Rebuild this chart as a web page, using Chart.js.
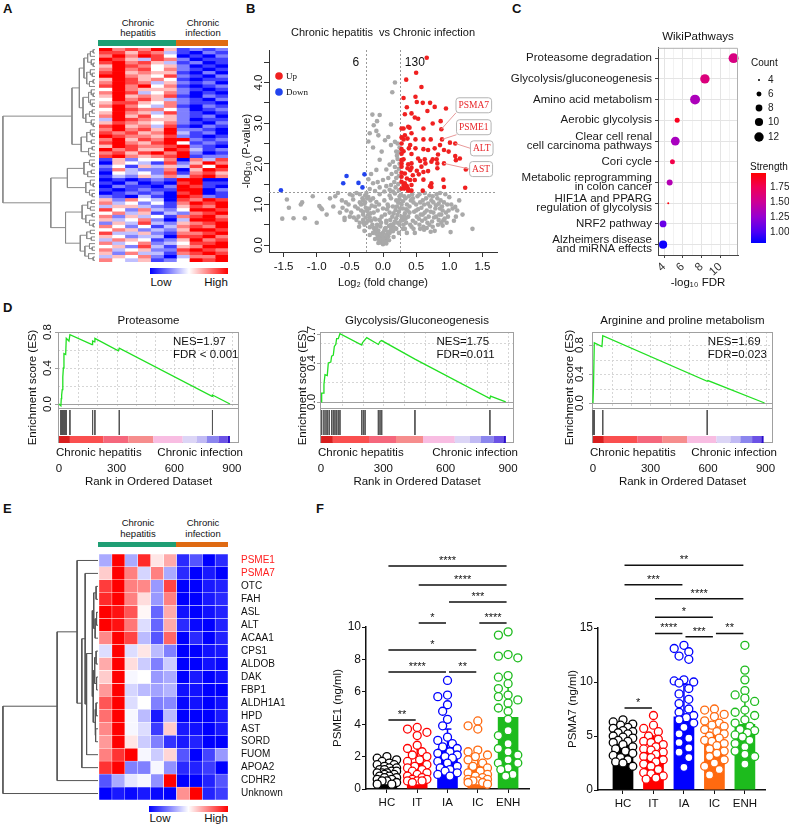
<!DOCTYPE html>
<html>
<head>
<meta charset="utf-8">
<script src="https://cdn.jsdelivr.net/npm/chart.js@4.4.1/dist/chart.umd.min.js"></script>
<style>
  html, body { margin: 0; padding: 0; background: #fff; }
  body { width: 789px; height: 827px; position: relative; overflow: hidden; font-family: "Liberation Sans", Arial, sans-serif; color: #111; }
  canvas { position: absolute; }
  .t { position: absolute; white-space: nowrap; line-height: 1; }
  .box { position: absolute; }
</style>
</head>
<body>
<script>
// ---------------- data ----------------
// A: heatmap, digits 0..8 (4 = neutral), 6 chronic hepatitis + 4 chronic infection columns
const heatRowsA = [
  "8676851212","7757631021","6868740102","8753762011","7867531201","5876452010",
  "6867462101","7856551020","8865472102","5875641011","6876352120","7868461012",
  "4865552101","6873462010","5856571021","4867532102","5775462110","6864361021",
  "4876642012","5865372101","6857452120","3876552011","5765462102","7856371021",
  "6867582210","7675683120","8766572101","6857688212","7865784121","5876678210",
  "8675587312","6757868201","7865678122",
  "1524460637","0543172586","2415353748","1632260587","0434271675","1325363786",
  "0101218800","1020107811","0211028710","1012118802","0121207801","2103108721",
  "5264307687","6342416878","3553215768","7426324887","4635132678","6253416786",
  "5346203887","2537325678","6424136768","4652325887","7335216678","5423307786",
  "3654125867","6346234778","4527315688","6345227876","5263316787","3546203668",
  "6435124878"
];
// dendrogram of A rows: [height, left, right], leaves = row index
const treeA = [1.0,
  [0.25,
    [0.17,
      [0.12, [0.08, [0.05, [0.02, 0, 1], 2], [0.04, 3, [0.02, 4, 5]]], [0.09, [0.05, 6, [0.03, 7, 8]], [0.06, [0.02, 9, 10], 11]]],
      [0.13, [0.07, [0.04, 12, [0.02, 13, 14]], [0.05, 15, [0.03, 16, 17]]], [0.1, [0.06, [0.03, 18, 19], 20], [0.04, 21, [0.02, 22, 23]]]]],
    [0.15, [0.09, [0.05, 24, [0.03, 25, 26]], [0.04, 27, 28]], [0.07, [0.03, 29, 30], [0.05, 31, 32]]]],
  [0.48,
    [0.3, [0.12, [0.06, 33, [0.03, 34, 35]], [0.08, [0.04, 36, 37], 38]], [0.1, [0.05, 39, [0.02, 40, 41]], [0.06, 42, [0.03, 43, 44]]]],
    [0.32,
      [0.14, [0.08, [0.04, 45, 46], [0.05, 47, 48]], [0.1, [0.03, 49, 50], [0.06, 51, [0.02, 52, 53]]]],
      [0.16, [0.09, [0.05, 54, 55], [0.04, 56, 57]], [0.11, [0.06, 58, [0.03, 59, 60]], [0.07, 61, [0.02, 62, 63]]]]]]];

// B: volcano plot, [log2 fold change, -log10 p]
const volcanoUp = [[0.66,4.61],[0.50,4.24],[0.35,4.07],[0.58,3.89],[0.31,3.62],[0.49,3.65],[0.51,3.52],[0.60,3.50],[0.71,3.50],[0.78,3.40],[0.95,3.36],[0.36,3.39],[0.43,3.24],[0.67,3.30],[0.33,3.22],[0.48,3.14],[0.53,3.11],[0.75,2.99],[0.87,3.05],[0.61,2.87],[0.38,2.91],[0.40,2.89],[0.28,2.87],[0.31,2.87],[0.88,2.85],[0.43,2.75],[0.33,2.70],[0.28,2.65],[0.31,2.60],[0.37,2.62],[0.49,2.60],[0.61,2.60],[0.72,2.60],[0.89,2.60],[1.01,2.52],[1.09,2.50],[0.86,2.46],[0.28,2.50],[0.41,2.46],[0.39,2.38],[0.28,2.36],[0.31,2.31],[0.49,2.38],[0.61,2.36],[0.68,2.34],[0.78,2.38],[0.92,2.34],[0.99,2.30],[0.28,2.25],[0.43,2.24],[0.83,2.23],[1.09,2.19],[1.16,2.13],[1.10,2.09],[0.31,2.11],[0.53,2.13],[0.63,2.11],[0.75,2.11],[0.81,2.11],[0.28,2.09],[0.56,2.07],[0.73,2.05],[0.64,2.01],[0.92,2.01],[0.28,2.01],[0.38,1.99],[0.43,2.01],[0.82,2.01],[0.28,1.93],[0.43,1.90],[0.58,1.93],[0.37,1.89],[0.41,1.84],[0.51,1.83],[0.82,1.89],[1.25,1.86],[0.68,1.82],[0.61,1.80],[0.28,1.78],[0.33,1.76],[0.45,1.72],[0.54,1.74],[0.28,1.68],[0.36,1.64],[0.41,1.60],[0.48,1.60],[0.61,1.61],[0.91,1.61],[0.28,1.56],[0.33,1.52],[0.73,1.52],[0.31,1.48],[0.36,1.45],[0.43,1.48],[0.71,1.45],[0.73,1.43],[0.92,1.43],[0.32,1.39],[0.38,1.38],[1.24,1.41],[0.60,1.34],[0.43,1.34],[0.38,1.34],[0.28,1.39]];
const volcanoDown = [[-1.54,1.35],[-0.55,1.70],[-0.60,1.52],[-0.37,1.53],[-0.31,1.42],[-0.28,1.74]];
const volcanoGray = [
  [-1.52,0.65],[-1.35,0.66],[-1.18,0.66],[-1.42,0.92],[-1.45,1.12],[-1.24,1.0],[-1.22,1.05],[-1.06,1.2],[-0.94,0.92],[-0.96,0.96],[-0.92,0.88],[-0.72,1.2],[-0.68,1.28],[-0.61,0.92],[-0.58,0.67],[-0.58,0.62],[-0.52,1.0],[-0.5,1.25],[-0.48,0.8],[-0.45,1.12],[-0.42,0.95],[-0.4,1.28],[-0.37,0.7],[-0.35,1.05],[-0.33,0.85],[-0.31,1.15],[-0.29,0.55],[-0.3,0.75],[-0.36,0.45],[-0.8,1.15],[-0.62,1.1],[-0.55,0.85],[-0.46,1.22],[-0.44,0.68],[-0.4,0.62],[-0.38,0.9],[-0.35,0.55],[-0.33,1.0],
  [0.18,4.0],[0.14,3.76],[-0.05,3.2],[-0.09,3.05],[-0.16,3.21],[-0.14,2.95],[-0.1,2.81],[-0.2,2.75],[-0.22,2.55],[-0.07,2.7],[0.08,2.66],[0.03,2.58],[0.22,2.5],[0.12,2.46],[0.25,2.4],[0.2,2.3],[-0.02,2.3],[-0.15,2.4],[0.12,2.97],[0.18,2.54],[0.22,2.12],[0.15,2.05],[-0.05,2.1],[0.1,1.98],[0.18,1.92],[0.05,1.86],[0.24,1.88],[-0.1,1.85],[0.2,1.8],[0.13,1.75],[-0.18,1.75],[-0.22,1.62],[0.24,1.7],[0.2,1.65],[0.08,1.65],[0.0,1.6],[-0.08,1.55],[0.17,1.55],[0.23,1.5],[0.12,1.48],[-0.15,1.52],[0.05,1.45],[-0.05,1.42],[0.19,1.42],[0.24,1.35],[0.1,1.36],[-0.2,1.38],[-0.12,1.33],[0.02,1.32],[0.15,1.32],[0.21,2.2],[0.25,2.0],[0.23,2.28],
  [0.0,0.02],[0.02,0.05],[-0.02,0.06],[0.04,0.1],[-0.04,0.1],[0.01,0.12],[0.06,0.15],[-0.06,0.14],[0.03,0.18],[-0.03,0.2],[0.08,0.22],[-0.08,0.2],[0.05,0.25],[-0.05,0.27],[0.1,0.3],[-0.1,0.28],[0.0,0.3],[0.07,0.33],[-0.07,0.35],[0.12,0.38],[-0.12,0.36],[0.03,0.4],[0.14,0.45],[-0.14,0.42],[0.09,0.47],[-0.09,0.5],[0.16,0.52],[-0.16,0.5],[0.05,0.55],[0.18,0.58],[-0.18,0.6],[0.11,0.62],[-0.11,0.63],[0.2,0.66],[-0.2,0.68],[0.14,0.7],[-0.02,0.7],[0.22,0.74],[-0.22,0.75],[0.16,0.78],[-0.14,0.8],[0.24,0.82],[-0.24,0.84],[0.19,0.86],[0.06,0.88],[0.26,0.9],[-0.26,0.92],[0.21,0.95],[-0.17,0.97],[0.28,1.0],[-0.28,1.02],[0.23,1.04],[-0.1,1.06],[0.3,1.08],[-0.3,1.1],[0.25,1.12],[0.12,1.15],[-0.22,1.18],[0.32,1.2],[0.27,1.24],[-0.05,1.25],[0.18,1.27],[-0.25,1.28],
  [0.01,0.08],[0.0,0.16],[-0.01,0.24],[0.02,0.36],[0.04,0.42],[-0.04,0.46],[0.15,0.34],[-0.15,0.3],[0.2,0.4],[-0.2,0.44],[0.25,0.5],[-0.25,0.55],[0.3,0.62],[0.28,0.7],[0.33,0.78],[0.35,0.88],[-0.3,0.62],[-0.3,0.82],[-0.28,0.5],[-0.26,0.68],[-0.24,1.15],[-0.21,0.9],[-0.19,1.1],[-0.27,1.22],[0.08,0.95],[-0.06,1.0],[0.1,1.22],[0.02,1.1],
  [0.35,0.55],[0.38,0.7],[0.4,0.95],[0.42,1.1],[0.45,0.6],[0.47,0.82],[0.5,1.0],[0.52,1.2],[0.55,0.5],[0.57,0.75],[0.58,0.92],[0.6,1.1],[0.62,0.38],[0.64,0.65],[0.66,0.85],[0.68,1.02],[0.7,1.22],[0.72,0.33],[0.74,0.58],[0.76,0.8],[0.78,0.35],[0.8,0.98],[0.82,1.15],[0.84,0.62],[0.86,0.9],[0.88,0.75],[0.9,0.48],[0.92,1.05],[0.95,0.8],[0.97,1.0],[1.02,0.32],[1.05,0.9],[1.1,0.7],[1.35,0.4],[1.09,0.94],[0.91,0.61],
  [0.33,0.4],[0.36,0.3],[0.31,0.5],[0.34,0.65],[0.37,0.85],[0.39,1.2],[0.43,0.45],[0.44,1.25],[0.48,0.3],[0.49,0.55],[0.51,0.7],[0.53,0.88],[0.56,1.05],[0.59,0.6],[0.61,0.45],[0.63,0.8],[0.65,1.15],[0.67,0.55],[0.69,0.7],[0.71,0.95],[0.73,1.1],[0.75,0.45],[0.77,0.68],[0.79,0.9],[0.81,1.25],[0.83,0.5],[0.85,0.75],[0.87,1.1],[0.89,0.95],[0.93,0.65],[0.96,0.55],[0.99,0.85],[1.0,1.18],[0.94,1.25],
  [0.05,0.6],[-0.05,0.62],[0.1,0.8],[-0.08,0.85],[0.15,0.95],[-0.12,0.95],[0.2,1.1],[-0.15,1.15],[0.25,1.2],[0.07,1.0],[0.0,0.9],[0.03,0.75],[-0.03,0.55],[0.12,0.5],[-0.1,0.42],[0.18,0.42],[0.22,0.55],[0.27,0.6],[0.32,0.7],[0.3,0.9],[0.36,1.0],[0.34,1.15],[0.4,0.8],[0.41,0.5],[0.46,0.4],[0.46,1.05],[0.5,0.85],[0.54,0.65],[0.56,0.4],[0.6,0.75],[0.62,1.0],[0.66,0.42],[0.7,0.5],[0.72,0.82],[0.76,1.05],[0.8,0.7],[0.84,1.02],[0.88,0.55],[0.9,0.85],[0.98,0.7],[1.03,1.0],[1.07,0.6],[1.12,0.85],[1.15,1.1],[1.2,0.75],[0.45,1.15],[0.55,1.25],[0.63,1.28],[0.75,1.2],[0.86,1.28],[-0.13,0.65],[-0.19,0.78],[-0.23,0.6],[-0.27,1.05],[-0.35,1.25],[-0.5,0.7],[-0.56,1.05],[-0.65,0.8],[-0.75,0.95],[-0.85,0.75],[-1.0,0.55],[-0.28,0.35],[-0.2,0.25],[0.24,0.3],[0.3,0.4],[0.16,0.2],[-0.12,0.15],[0.09,0.12],[-0.07,0.05],[0.05,0.04]
];
const fcCut = [-0.26, 0.26];
const pCut = 1.3;
const geneTags = [ // gene, point, tag centre, anchor
  ['PSMA7', [0.88, 2.85], [1.37, 3.44], 'bl'],
  ['PSME1', [0.89, 2.60], [1.37, 2.90], 'bl'],
  ['ALT',   [1.09, 2.50], [1.49, 2.38], 'l'],
  ['AST',   [0.92, 2.01], [1.48, 1.87], 'l']
];

// C: WikiPathways enrichment
const wpTerms = ['Proteasome degradation', 'Glycolysis/gluconeogenesis', 'Amino acid metabolism', 'Aerobic glycolysis',
  ['Clear cell renal', 'cell carcinoma pathways'], 'Cori cycle', ['Metabolic reprogramming', 'in colon cancer'],
  ['HIF1A and PPARG', 'regulation of glycolysis'], 'NRF2 pathway', ['Alzheimers disease', 'and miRNA effects']];
const wpFdr = [11.4, 8.35, 7.3, 5.4, 5.2, 4.9, 4.6, 4.45, 3.9, 3.9];
const wpCount = [13, 12, 13, 6, 11, 6, 7, 4, 8, 10];
const wpStrength = [1.58, 1.6, 1.35, 1.9, 1.33, 1.78, 1.38, 1.95, 1.1, 0.85];
const countBreaks = [4, 6, 8, 10, 12];
const strengthBreaks = [1.0, 1.25, 1.5, 1.75];

// D: GSEA running enrichment scores [rank, ES] and hit ranks
const proteasomeCurve = [[0,0],[10,-0.02],[12,0.06],[14,0.1],[17,0.16],[19,0.21],[21,0.3],[23,0.4],[26,0.56],[35,0.55],[38,0.73],[52,0.7],[57,0.77],[172,0.66],[175,0.7],[185,0.69],[187,0.73],[309,0.59],[314,0.62],[797,0.085],[799,0.1],[890,0]];
const proteasomeHits = [10,12,14,17,19,21,23,26,30,35,38,57,175,187,314,799];
const glycolysisCurve = [[0,0],[3,0.09],[11,0.09],[14,0.18],[19,0.28],[30,0.27],[35,0.4],[47,0.41],[51,0.47],[59,0.48],[64,0.57],[71,0.59],[75,0.65],[83,0.65],[91,0.7],[196,0.585],[200,0.61],[208,0.63],[220,0.66],[276,0.59],[284,0.62],[292,0.63],[452,0.44],[813,0.035],[816,0.06],[889,0]];
const glycolysisHits = [3,14,24,32,40,51,59,67,75,83,91,196,204,212,276,284,292,452,813];
const arginineCurve = [[0,0],[3,0.25],[7,0.83],[47,0.78],[51,0.93],[596,0.3],[600,0.31],[895,0]];
const arginineHits = [1,3,5,7,51,596];
const rankTicks = [0, 300, 600, 900];
const rankBreaks = [0, 57, 231, 361, 491, 644, 717, 769, 830, 878, 890];
const rankColors = ['#d81e1e','#fa4f4f','#f5677c','#f68d8d','#f8bde2','#dcd5f6','#c1baf4','#8b85ee','#6b52e6','#2a0ccc'];

// E: marker heatmap
const eGenes = ['PSME1','PSMA7','OTC','FAH','ASL','ALT','ACAA1','CPS1','ALDOB','DAK','FBP1','ALDH1A1','HPD','AST','SORD','FUOM','APOA2','CDHR2','Unknown'];
const eValues = [
  [-1, 3, -1, 2.5, 0.3, 1, -2.5, -2, -3, -2.5],
  [0.6, 3, 1.5, -0.5, 1.5, -1, -2.5, -3, -2.7, -3],
  [2.3, 3, 1.5, 1.4, -1.2, 2.2, -3, -3, -2.7, -2.6],
  [2.5, 3, 1.5, 0.4, -1.2, 1.5, -3, -3, -2.7, -2.5],
  [3, 2.8, 2, 0.1, -1.8, 1, -2.8, -3, -2.8, -2.6],
  [3, 2.8, 1.6, -0.4, -1.8, 1, -2.5, -2.9, -3, -2.6],
  [1.4, 3, 2.2, -0.8, -2, 1.8, -3, -2.5, -3, -2.6],
  [-0.4, 3, -0.4, 0.3, -0.8, -1.5, -3, -3, -2.8, -2.7],
  [1, 3, 0.4, -0.6, -1.5, -0.6, -3, -3, -2.8, -2.9],
  [0.6, 3, -0.1, 0, -1.2, -1, -3, -2.7, -3, -2.8],
  [1.2, 3, -0.5, -0.8, -1.1, -0.9, -2.8, -2.8, -3, -3],
  [2, 3, -0.4, 0, -1.5, -1.4, -2.9, -2.8, -3, -2.8],
  [1.7, 3, -0.1, -0.8, -2.7, -0.8, -3, -3, -3, -2.7],
  [1.4, 3, -0.1, -0.4, -2.3, 0.6, -2.7, -2.8, -3, -2.7],
  [1.2, 3, 0.3, -0.6, -1.5, -2.4, -2.7, -2.6, -3, -3],
  [1.5, 2.4, 3, -0.1, -0.6, 0.5, -2, -3, -2.2, -1.2],
  [2.4, 3, -1.5, -1.5, -0.1, -1.3, -2.5, -2.6, -2.3, -3],
  [-2, -1, -0.3, -0.1, -1.3, 3, -3, -3, -2.6, -2],
  [-3, -2.7, -2.9, -2.7, -2.9, -3, 1.3, 3, -2.6, -2.3]
];
const treeE = [1.0,
  [0.43,
    [0.22, 0,
      [0.17,
        [0.135, 1,
          [0.12,
            [0.06,
              [0.045, [0.02, 2, 3], [0.03, [0.015, 4, 5], 6]],
              [0.05, [0.035, [0.02, 7, 8], [0.015, 9, 10]], [0.03, [0.02, 11, 12], [0.025, 13, 14]]]],
            15]],
        16]],
    17],
  18];

// F: serum levels per group
const groupNames = ['HC', 'IT', 'IA', 'IC', 'ENH'];
const groupColors = ['#000000', '#ff0000', '#0000ff', '#ff6a10', '#1dbb1d'];
const psme1Mean = [1.0, 1.6, 2.5, 1.45, 4.45];
const psme1Sd = [0.5, 1.0, 1.2, 1.1, 2.6];
const psme1Points = [
  [2.0,1.9,1.8,1.7,1.6,1.5,1.5,1.4,1.3,1.3,1.2,1.2,1.1,1.1,1.0,1.0,1.0,0.9,0.9,0.8,0.8,0.7,0.7,0.6,0.6,0.5,0.5,0.4,0.3,0.3],
  [3.8,3.7,3.5,3.3,2.7,2.5,2.3,2.1,2.0,1.8,1.7,1.5,1.4,1.3,1.2,1.1,1.0,0.9,0.8,0.7,0.6,0.6,0.5,0.5,0.5,0.4],
  [6.7,5.8,5.7,5.2,4.8,4.3,3.9,3.2,3.0,2.8,2.6,2.5,2.3,2.2,2.1,2.0,1.9,1.7,1.6,1.4,1.3,1.2,1.1,1.0,0.9,0.8],
  [4.2,3.9,3.7,2.4,2.3,2.1,2.0,1.8,1.6,1.4,1.3,1.1,1.0,0.9,0.8,0.7,0.6,0.6,0.5,0.5,0.4,0.4,0.3],
  [9.7,9.5,8.3,8.2,8.1,7.0,6.9,6.5,6.2,5.8,5.7,5.5,5.3,5.0,4.8,4.3,3.6,3.3,2.8,2.5,2.3,2.1,1.8,1.6,1.6,1.3,1.2,0.9,0.8]
];
const psme1Brackets = [[0,4,13.77,'****'],[1,4,12.6,'****'],[2,4,11.55,'***'],[1,2,10.25,'*'],[3,4,10.25,'****'],[0,3,8.58,'*'],[0,2,7.22,'****'],[2,3,7.22,'**'],[0,1,4.26,'**']];
const psma7Mean = [4.7, 3.6, 6.8, 4.6, 6.1];
const psma7Sd = [1.1, 1.4, 3.0, 1.6, 2.6];
const psma7Points = [
  [6.5,6.3,6.1,6.0,5.8,5.7,5.5,5.4,5.3,5.2,5.0,4.9,4.8,4.6,4.5,4.4,4.2,4.0,3.8,3.6,3.4,3.2,3.0,2.8,2.6,2.5,2.2],
  [6.9,6.0,5.7,5.4,5.0,4.7,4.5,4.4,4.2,4.0,3.8,3.7,3.5,3.3,3.1,3.0,2.8,2.6,2.4,2.2,1.9,1.6,1.5,1.3,1.1,1.0],
  [13.4,13.1,12.8,12.4,12.1,10.2,10.1,10.0,9.9,9.4,8.9,8.4,8.0,7.5,7.2,6.9,6.7,6.5,6.2,5.8,5.2,4.8,4.4,3.9,3.5,3.0,2.1],
  [7.5,7.4,7.0,6.8,6.4,6.2,6.0,5.9,5.6,5.4,5.2,5.0,4.8,4.6,4.5,4.3,4.1,3.8,3.6,3.4,3.1,2.8,2.5,2.2,1.9,1.4],
  [13.4,11.1,10.2,9.2,8.8,8.5,8.2,7.4,7.2,6.9,6.5,6.2,5.9,5.6,5.5,5.3,5.1,4.9,4.6,4.3,4.0,3.6,3.3,3.1,2.4]
];
const psma7Brackets = [[0,4,20.8,'**'],[0,2,19.0,'***'],[1,4,17.7,'****'],[1,3,16.0,'*'],[1,2,14.5,'****'],[2,3,14.2,'***'],[3,4,14.5,'**'],[0,1,7.6,'*']];

// ---------------- helpers ----------------
const FONT = '"Liberation Sans", Arial, sans-serif';
const SERIF = '"Liberation Serif", "Times New Roman", serif';
Chart.defaults.font.family = FONT;
Chart.defaults.color = '#111';
Chart.defaults.animation = false;
Chart.defaults.events = [];
Chart.defaults.plugins.legend.display = false;
Chart.defaults.plugins.tooltip.enabled = false;

function canvasAt(left, top, w, h) {
  const c = document.createElement('canvas');
  c.width = w; c.height = h;
  c.style.left = left + 'px'; c.style.top = top + 'px';
  c.style.width = w + 'px'; c.style.height = h + 'px';
  document.body.appendChild(c);
  return c.getContext('2d');
}
function text(str, x, y, size, align, extra) {
  const d = document.createElement('div');
  d.className = 't';
  d.textContent = str;
  d.style.left = x + 'px'; d.style.top = y + 'px';
  d.style.fontSize = size + 'px';
  d.style.transform = align === 'l' ? 'translate(0,-50%)' : align === 'r' ? 'translate(-100%,-50%)' : 'translate(-50%,-50%)';
  if (extra) Object.assign(d.style, extra);
  document.body.appendChild(d);
}
function block(x, y, w, h, bg) {
  const d = document.createElement('div');
  d.className = 'box';
  Object.assign(d.style, { left: x + 'px', top: y + 'px', width: w + 'px', height: h + 'px', background: bg });
  document.body.appendChild(d);
}
const noPad = s => { s.paddingLeft = s.paddingRight = s.paddingTop = s.paddingBottom = 0; };

function heatColor(v, vmax) {
  const t = Math.max(-1, Math.min(1, v / vmax));
  if (t < 0) { const k = Math.round(255 * (1 + t)); return `rgb(${k},${k},255)`; }
  const k = Math.round(255 * (1 - t)); return `rgb(255,${k},${k})`;
}
function dendroLines(tree) {
  const pts = [];
  (function walk(n) {
    if (typeof n === 'number') return { y: n, h: 0 };
    const a = walk(n[1]), b = walk(n[2]), h = n[0];
    pts.push({ x: a.h, y: a.y }, { x: h, y: a.y }, { x: h, y: b.y }, { x: b.h, y: b.y }, { x: h, y: null });
    return { y: (a.y + b.y) / 2, h };
  })(tree);
  return pts;
}
function dendroChart(ctx, tree, n, color) {
  return new Chart(ctx, {
    type: 'scatter',
    data: { datasets: [{ data: dendroLines(tree), showLine: true, borderColor: color, borderWidth: 1, pointRadius: 0, clip: false }] },
    options: {
      responsive: false, layout: { padding: 0 },
      scales: {
        x: { min: 0, max: 1.01, reverse: true, display: false },
        y: { min: -0.5, max: n - 0.5, reverse: true, display: false }
      }
    }
  });
}
function heatChart(ctx, rows, labels, vmax, gap, yOpts) {
  const nCol = rows[0].length, datasets = [];
  for (let c = 0; c < nCol; c++) {
    datasets.push({
      data: rows.map(() => [c, c + 1]),
      backgroundColor: rows.map(r => heatColor(r[c], vmax)),
      borderColor: '#ffffff', borderWidth: gap, borderSkipped: false,
      barPercentage: 1, categoryPercentage: 1, grouped: false
    });
  }
  return new Chart(ctx, {
    type: 'bar',
    data: { labels, datasets },
    options: {
      indexAxis: 'y', responsive: false, layout: { padding: 0 },
      scales: { x: { type: 'linear', min: 0, max: nCol, display: false }, y: yOpts }
    }
  });
}
function rotLabel(c, str, x, y) {
  c.save(); c.translate(x, y); c.rotate(-Math.PI / 2); c.fillText(str, 0, 0); c.restore();
}

// ---------------- panel letters ----------------
[['A', 3, 8], ['B', 246, 8], ['C', 512, 8], ['D', 3, 307], ['E', 3, 508], ['F', 316, 508]]
  .forEach(([s, x, y]) => text(s, x, y, 13, 'l', { fontWeight: 'bold' }));

// ---------------- A ----------------
text('Chronic', 138, 23, 9.5); text('hepatitis', 138, 33, 9.5);
text('Chronic', 203, 23, 9.5); text('infection', 203, 33, 9.5);
block(98, 40, 78, 6, '#1f9e74'); block(176, 40, 52, 6, '#df6a12');
block(150, 268, 78, 6, 'linear-gradient(to right, #0000ff, #ffffff, #ff0000)');
text('Low', 161, 283, 11.5); text('High', 216, 283, 11.5);
const heatA = heatRowsA.map(s => s.split('').map(ch => +ch - 4));
heatChart(canvasAt(99, 48, 129, 214), heatA, heatA.map((_, i) => 'r' + i), 4, 0, { display: false });
dendroChart(canvasAt(2, 48, 93, 214), treeA, heatA.length, '#8a8a8a');

// ---------------- B: volcano ----------------
const toXY = ([x, y]) => ({ x, y });
const volDeco = {
  id: 'volDeco',
  beforeDatasetsDraw(chart) {
    const { ctx: c, chartArea: a, scales: { x, y } } = chart;
    c.save(); c.strokeStyle = '#9a9a9a'; c.lineWidth = 1; c.setLineDash([2, 2]);
    fcCut.forEach(v => { const px = Math.round(x.getPixelForValue(v)) + 0.5; c.beginPath(); c.moveTo(px, a.top); c.lineTo(px, a.bottom); c.stroke(); });
    const py = Math.round(y.getPixelForValue(pCut)) + 0.5;
    c.beginPath(); c.moveTo(a.left, py); c.lineTo(a.right, py); c.stroke();
    c.restore();
  },
  afterDraw(chart) {
    const { ctx: c, chartArea: a, scales: { x, y } } = chart;
    c.save();
    c.fillStyle = '#111'; c.font = '11.5px ' + FONT; c.textAlign = 'center'; c.textBaseline = 'middle';
    y.ticks.forEach(t => { if (Math.abs(t.value - Math.round(t.value)) < 1e-6) rotLabel(c, t.value.toFixed(1), y.right - 10, y.getPixelForValue(t.value)); });
    c.font = '12px ' + FONT;
    c.fillText(String(volcanoDown.length), x.getPixelForValue(-0.41), y.getPixelForValue(4.5));
    c.fillText('130', x.getPixelForValue(0.48), y.getPixelForValue(4.5));
    // legend
    [['Up', '#f02020', 26], ['Down', '#2244ee', 42]].forEach(([s, col, dy]) => {
      c.fillStyle = col; c.beginPath(); c.arc(a.left + 10, a.top + dy, 3.8, 0, Math.PI * 2); c.fill();
      c.fillStyle = '#111'; c.font = '9px ' + SERIF; c.textAlign = 'left'; c.fillText(s, a.left + 17, a.top + dy + 0.5);
    });
    // gene tags
    c.font = '9.5px ' + SERIF;
    geneTags.forEach(([g, p, b, anchor]) => {
      const px = x.getPixelForValue(p[0]), py = y.getPixelForValue(p[1]);
      const bx = x.getPixelForValue(b[0]), by = y.getPixelForValue(b[1]);
      const w = c.measureText(g).width + 5, h = 15;
      const ax = bx - w / 2, ay = anchor === 'bl' ? by + h / 2 : by;
      c.strokeStyle = '#e89a9a'; c.lineWidth = 1;
      c.beginPath(); c.moveTo(px, py); c.lineTo(ax, ay); c.stroke();
      c.fillStyle = '#fff'; c.strokeStyle = '#b4b4b4';
      c.beginPath(); c.roundRect(bx - w / 2, by - h / 2, w, h, 3); c.fill(); c.stroke();
      c.fillStyle = '#e8262a'; c.textAlign = 'center'; c.fillText(g, bx, by + 0.5);
    });
    c.restore();
  }
};
new Chart(canvasAt(240, 20, 265, 272), {
  type: 'scatter',
  data: {
    datasets: [
      { data: volcanoDown.map(toXY), backgroundColor: '#2244ee', pointRadius: 2.3, borderWidth: 0, order: 1 },
      { data: volcanoUp.map(toXY), backgroundColor: '#f02020', pointRadius: 2.3, borderWidth: 0, order: 2 },
      { data: volcanoGray.map(toXY), backgroundColor: '#a9a9a9', pointRadius: 2.3, borderWidth: 0, order: 3 }
    ]
  },
  options: {
    responsive: false, layout: { padding: { right: 8 } },
    plugins: { title: { display: true, text: 'Chronic hepatitis  vs Chronic infection', fullSize: false, color: '#111', font: { size: 11, weight: 'normal' }, padding: { top: 6, bottom: 10.8 } } },
    scales: {
      x: {
        min: -1.72, max: 1.72,
        grid: { drawOnChartArea: false, tickLength: 5, tickColor: '#333' }, border: { color: '#333' },
        ticks: { stepSize: 0.5, includeBounds: false, padding: 3, font: { size: 11.5 }, color: '#111', callback: v => v.toFixed(1) },
        title: { display: true, text: 'Log₂ (fold change)', font: { size: 11 }, color: '#111', padding: { top: 0, bottom: 2.4 } },
        afterFit: s => { s.height = 40; noPad(s); }
      },
      y: {
        min: -0.17, max: 4.8,
        grid: { drawOnChartArea: false, tickLength: 5, tickColor: '#333' }, border: { color: '#333' },
        ticks: { stepSize: 0.5, includeBounds: false, display: false },
        title: { display: true, text: '-log₁₀ (P-value)', font: { size: 11 }, color: '#111', padding: 0 },
        afterFit: s => { s.width = 29; noPad(s); }
      }
    }
  },
  plugins: [volDeco]
});

// ---------------- C: WikiPathways ----------------
const strengthStops = [[0.82, [0, 0, 255]], [1.0, [75, 0, 245]], [1.25, [150, 0, 210]], [1.5, [205, 0, 150]], [1.75, [240, 0, 85]], [1.98, [255, 0, 0]]];
function strengthColor(v) {
  for (let i = 1; i < strengthStops.length; i++) {
    const [v0, c0] = strengthStops[i - 1], [v1, c1] = strengthStops[i];
    if (v <= v1 || i === strengthStops.length - 1) {
      const t = Math.max(0, Math.min(1, (v - v0) / (v1 - v0)));
      return `rgb(${c0.map((k, j) => Math.round(k + (c1[j] - k) * t)).join(',')})`;
    }
  }
}
const countRadius = n => 1.62 * Math.sqrt(n - 3.62);
const wpDeco = {
  id: 'wpDeco',
  afterDraw(chart) {
    const { ctx: c, chartArea: a } = chart;
    c.save();
    c.strokeStyle = '#b0b0b0'; c.lineWidth = 1;
    c.beginPath(); c.moveTo(a.left, a.top + 0.5); c.lineTo(a.right - 0.5, a.top + 0.5); c.lineTo(a.right - 0.5, a.bottom); c.stroke();
    c.fillStyle = '#111'; c.textBaseline = 'middle'; c.textAlign = 'left';
    c.font = '10px ' + FONT;
    c.fillText('Count', 246, 43);
    countBreaks.forEach((n, i) => {
      const yy = [60, 74, 88, 102, 117][i];
      c.fillStyle = '#000'; c.beginPath(); c.arc(254, yy, countRadius(n), 0, Math.PI * 2); c.fill();
      c.fillStyle = '#222'; c.font = '10px ' + FONT; c.fillText(String(n), 263, yy);
    });
    c.font = '10px ' + FONT; c.fillStyle = '#111';
    c.fillText('Strength', 245, 147);
    const top = 153, bot = 223, vTop = 1.98, vBot = 0.82;
    const g = c.createLinearGradient(0, top, 0, bot);
    strengthStops.forEach(([v, col]) => g.addColorStop((vTop - v) / (vTop - vBot), `rgb(${col.join(',')})`));
    c.fillStyle = g; c.fillRect(246, top, 15, bot - top);
    c.fillStyle = '#222'; c.font = '10px ' + FONT;
    strengthBreaks.forEach(v => c.fillText(v.toFixed(2), 265, top + (vTop - v) / (vTop - vBot) * (bot - top)));
    c.restore();
  }
};
new Chart(canvasAt(505, 20, 284, 280), {
  type: 'bubble',
  data: { datasets: [{ data: wpFdr.map((f, i) => ({ x: f, y: i, r: countRadius(wpCount[i]) })), backgroundColor: wpStrength.map(strengthColor), borderWidth: 0, clip: false }] },
  options: {
    responsive: false, layout: { padding: { right: 51 } },
    plugins: { title: { display: true, text: 'WikiPathways', fullSize: false, color: '#111', font: { size: 11.5, weight: 'normal' }, padding: { top: 10, bottom: 4 } } },
    scales: {
      x: {
        min: 3.36, max: 11.87,
        grid: { color: c => (c.tick && c.tick.value % 2 === 0) ? '#e4e4e4' : '#f2f2f2', tickColor: c => (c.tick && c.tick.value % 2 === 0) ? '#444' : 'rgba(0,0,0,0)', tickLength: 3 },
        border: { color: '#444' },
        ticks: { stepSize: 1, includeBounds: false, autoSkip: false, padding: 2, font: { size: 11.5 }, color: '#333', callback: v => (v % 2 === 0 ? String(v) : '') },
        title: { display: true, text: '-log₁₀ FDR', font: { size: 11.5 }, color: '#111', padding: { top: 0, bottom: 10 } },
        afterFit: s => { s.height = 45; noPad(s); }
      },
      y: {
        min: -0.5, max: 9.5, reverse: true,
        grid: { color: '#e4e4e4', tickColor: '#444', tickLength: 3 }, border: { color: '#444' },
        afterBuildTicks: s => { s.ticks = wpTerms.map((_, i) => ({ value: i })); },
        ticks: { autoSkip: false, padding: 3, font: { size: 11.5, lineHeight: 0.8 }, color: '#1a1a1a', callback: v => wpTerms[v] },
        afterFit: s => { s.width = 153; noPad(s); }
      }
    }
  },
  plugins: [wpDeco]
});

// ---------------- D: GSEA ----------------
function gseaPanel(o) {
  const top = 332, bottom = 443, cTop = 310, cBottom = 490;
  const u = (o.esMax - o.esMin) / 76;
  const hitTop = o.esMin - 2 * u, hitBot = o.esMin - 27 * u, barY = o.esMin - 31.5 * u, yMin = o.esMin - 35 * u;
  const hitPts = [];
  o.hits.forEach(r => hitPts.push({ x: r, y: hitTop }, { x: r, y: hitBot }, { x: r, y: null }));
  const deco = {
    id: 'gseaDeco',
    beforeDatasetsDraw(chart) {
      const { ctx: c, chartArea: a, scales: { x, y } } = chart;
      const yEs = y.getPixelForValue(o.esMin);
      c.save(); c.lineWidth = 1;
      c.strokeStyle = '#d6d6d6'; c.setLineDash([2, 2]);
      for (let r = 100; r < o.xMax; r += 100) { const px = Math.round(x.getPixelForValue(r)) + 0.5; c.beginPath(); c.moveTo(px, a.top); c.lineTo(px, yEs); c.stroke(); }
      for (let e = 0.2; e < o.esMax - 0.01; e += 0.2) { const py = Math.round(y.getPixelForValue(e)) + 0.5; c.beginPath(); c.moveTo(a.left, py); c.lineTo(a.right, py); c.stroke(); }
      c.setLineDash([]);
      c.strokeStyle = '#a0a0a0';
      const z = Math.round(y.getPixelForValue(0)) + 0.5;
      c.beginPath(); c.moveTo(a.left, z); c.lineTo(a.right, z); c.stroke();
      c.strokeRect(Math.round(a.left) + 0.5, Math.round(a.top) + 0.5, Math.round(a.width) - 1, Math.round(a.height) - 1);
      const s = Math.round(yEs) + 0.5;
      c.beginPath(); c.moveTo(a.left, s); c.lineTo(a.right, s); c.stroke();
      o.ticks.forEach(v => { const py = Math.round(y.getPixelForValue(v)) + 0.5; c.beginPath(); c.moveTo(a.left - 3, py); c.lineTo(a.left, py); c.stroke(); });
      c.restore();
    },
    afterDraw(chart) {
      const { ctx: c, chartArea: a, scales: { y } } = chart;
      c.save(); c.fillStyle = '#111'; c.font = '11.5px ' + FONT; c.textBaseline = 'middle';
      c.textAlign = 'center';
      o.ticks.forEach(v => rotLabel(c, v.toFixed(1), a.left - o.tickGap, y.getPixelForValue(v)));
      c.textAlign = 'left'; c.fillText('Chronic hepatitis', a.left - 2, a.bottom + 10);
      c.textAlign = 'right'; c.fillText('Chronic infection', a.right + 4, a.bottom + 10);
      c.textAlign = 'left';
      c.fillText(o.nes, a.left + o.nesFrac * a.width, a.top + 10);
      c.fillText(o.fdr, a.left + o.nesFrac * a.width, a.top + 23);
      c.restore();
    }
  };
  new Chart(canvasAt(o.cLeft, cTop, o.right + 14 - o.cLeft, cBottom - cTop), {
    type: 'scatter',
    data: {
      datasets: [
        { data: o.curve.map(toXY), showLine: true, borderColor: '#22e022', borderWidth: 1.3, pointRadius: 0, order: 1 },
        { data: hitPts, showLine: true, borderColor: '#555', borderWidth: 1, pointRadius: 0, order: 2 },
        { data: rankBreaks.map(r => ({ x: r, y: barY })), showLine: true, borderWidth: 7, borderCapStyle: 'butt', pointRadius: 0, order: 3,
          segment: { borderColor: c => rankColors[c.p0DataIndex] } }
      ]
    },
    options: {
      responsive: false, layout: { padding: { right: 14 } },
      plugins: { title: { display: true, text: o.title, fullSize: false, color: '#111', font: { size: 11.5, weight: 'normal' }, padding: { top: 4, bottom: 4.2 } } },
      scales: {
        x: {
          type: 'linear', min: -5, max: o.xMax,
          grid: { display: false, drawTicks: false }, border: { display: false },
          afterBuildTicks: s => { s.ticks = rankTicks.map(v => ({ value: v })); },
          ticks: { padding: 19, font: { size: 11.5 }, color: '#111', callback: v => String(v) },
          title: { display: true, text: 'Rank in Ordered Dataset', font: { size: 11.5 }, color: '#111', padding: { top: 0, bottom: 1 } },
          afterFit: s => { s.height = cBottom - bottom; noPad(s); }
        },
        y: {
          min: yMin, max: o.esMax,
          grid: { display: false, drawTicks: false }, border: { display: false }, ticks: { display: false },
          afterBuildTicks: s => { s.ticks = o.ticks.map(v => ({ value: v })); },
          title: { display: true, text: 'Enrichment score (ES)', font: { size: 11.5 }, color: '#111', padding: 0 },
          afterFit: s => { s.width = o.left - o.cLeft; noPad(s); }
        }
      }
    },
    plugins: [deco]
  });
}
gseaPanel({ title: 'Proteasome', cLeft: 26, left: 58, right: 239, esMax: 0.8, esMin: -0.044, xMax: 937, ticks: [0, 0.4, 0.8], tickGap: 10,
  curve: proteasomeCurve, hits: proteasomeHits, nes: 'NES=1.97', fdr: 'FDR < 0.001', nesFrac: 0.635 });
gseaPanel({ title: 'Glycolysis/Gluconeogenesis', cLeft: 296, left: 320, right: 514, esMax: 0.718, esMin: -0.062, xMax: 929, ticks: [0, 0.4, 0.7], tickGap: 8,
  curve: glycolysisCurve, hits: glycolysisHits, nes: 'NES=1.75', fdr: 'FDR=0.011', nesFrac: 0.6 });
gseaPanel({ title: 'Arginine and proline metabolism', cLeft: 563, left: 592, right: 773, esMax: 0.98, esMin: -0.069, xMax: 939, ticks: [0, 0.4, 0.8], tickGap: 12,
  curve: arginineCurve, hits: arginineHits, nes: 'NES=1.69', fdr: 'FDR=0.023', nesFrac: 0.64 });

// ---------------- E ----------------
text('Chronic', 138, 523, 9.5); text('hepatitis', 138, 534, 9.5);
text('Chronic', 203, 523, 9.5); text('infection', 203, 534, 9.5);
block(98, 542, 78, 5, '#1f9e74'); block(176, 542, 52, 5, '#df6a12');
block(149, 806, 79, 6, 'linear-gradient(to right, #0000ff, #ffffff, #ff0000)');
text('Low', 160, 819, 11.5); text('High', 216, 819, 11.5);
heatChart(canvasAt(99, 554, 191, 246), eValues, eGenes, 3, 0.5, {
  position: 'right', grid: { display: false }, border: { display: false },
  ticks: { font: { size: 10 }, padding: 5, autoSkip: false, color: c => (c.index < 2 ? '#ff2020' : '#111') },
  afterFit: s => { s.width = 62; noPad(s); }
});
dendroChart(canvasAt(2, 554, 96, 246), treeE, eGenes.length, '#555');

// ---------------- F ----------------
function swarm(vals, pxY, pxX) {
  const placed = [], cands = [0, -0.16, 0.16, -0.32, 0.32, -0.08, 0.08, -0.24, 0.24];
  return vals.map(v => {
    let best = 0, bestD = -1;
    for (const o of cands) {
      let dmin = Infinity;
      placed.forEach(p => { dmin = Math.min(dmin, Math.hypot((o - p.o) * pxX, (v - p.v) * pxY)); });
      if (dmin >= 7.5) { best = o; break; }
      if (dmin > bestD) { bestD = dmin; best = o; }
    }
    placed.push({ o: best, v });
    return { o: best, v };
  });
}
function dotBarPanel(o) {
  const cTop = 545, cBottom = 820;
  const err = [];
  o.means.forEach((m, i) => { const t = m + o.sds[i]; err.push({ x: i, y: m }, { x: i, y: t }, { x: i, y: null }, { x: i - 0.13, y: t }, { x: i + 0.13, y: t }, { x: i, y: null }); });
  const br = [];
  o.brackets.forEach(([a, b, y]) => br.push({ x: a + 0.05, y }, { x: b - 0.05, y }, { x: a, y: null }));
  const datasets = [
    { type: 'bar', data: o.means.map((m, i) => ({ x: i, y: m })), backgroundColor: groupColors, barPercentage: 0.68, categoryPercentage: 1, order: 4 },
    { type: 'scatter', data: err, showLine: true, borderWidth: 1.5, pointRadius: 0, order: 3, segment: { borderColor: c => groupColors[Math.round(c.p0.parsed.x)] } },
    { type: 'scatter', data: br, showLine: true, borderColor: '#111', borderWidth: 1.5, pointRadius: 0, clip: false, order: 0 }
  ];
  o.points.forEach((vals, i) => {
    datasets.push({ type: 'scatter', data: swarm(vals, o.pxY, 30.3).map(p => ({ x: i + p.o, y: p.v })), pointRadius: 4, borderWidth: 1.3, borderColor: groupColors[i], backgroundColor: '#ffffff', order: 1 });
  });
  const stars = {
    id: 'stars',
    afterDatasetsDraw(chart) {
      const { ctx: c, scales: { x, y } } = chart;
      c.save(); c.fillStyle = '#111'; c.font = '11px ' + FONT; c.textAlign = 'center'; c.textBaseline = 'alphabetic';
      o.brackets.forEach(([a, b, v, s]) => c.fillText(s, x.getPixelForValue((a + b) / 2), y.getPixelForValue(v) - 2));
      c.restore();
    }
  };
  new Chart(canvasAt(o.cLeft, cTop, o.right + 8 - o.cLeft, cBottom - cTop), {
    type: 'bar',
    data: { datasets },
    options: {
      responsive: false, layout: { padding: { top: o.top - cTop, right: 8 } },
      scales: {
        x: {
          type: 'linear', min: o.xMin, max: o.xMax, offset: false,
          grid: { offset: false, drawOnChartArea: false, tickLength: 4, tickColor: '#111' }, border: { color: '#111', width: 1.5 },
          ticks: { stepSize: 1, includeBounds: false, autoSkip: false, padding: 3, font: { size: 11.5 }, color: '#111', callback: v => groupNames[v] ?? '' },
          afterFit: s => { s.height = cBottom - o.bottom; noPad(s); }
        },
        y: {
          min: 0, max: o.yMax,
          grid: { drawOnChartArea: false, tickLength: 4, tickColor: '#111' }, border: { color: '#111', width: 1.5 },
          ticks: { stepSize: o.yStep, padding: 1, font: { size: 12 }, color: '#111' },
          title: { display: true, text: o.yTitle, font: { size: 11.5 }, color: '#111', padding: 0 },
          afterFit: s => { s.width = o.left - o.cLeft; noPad(s); }
        }
      }
    },
    plugins: [stars]
  });
}
dotBarPanel({ cLeft: 331, left: 366, right: 529, top: 627, bottom: 789, xMin: -0.69, xMax: 4.69, yMax: 10, yStep: 2, pxY: 16.2,
  means: psme1Mean, sds: psme1Sd, points: psme1Points, brackets: psme1Brackets, yTitle: 'PSME1 (ng/ml)' });
dotBarPanel({ cLeft: 566, left: 598, right: 765, top: 628, bottom: 790, xMin: -0.82, xMax: 4.66, yMax: 15, yStep: 5, pxY: 10.8,
  means: psma7Mean, sds: psma7Sd, points: psma7Points, brackets: psma7Brackets, yTitle: 'PSMA7 (ng/ml)' });
</script>
</body>
</html>
